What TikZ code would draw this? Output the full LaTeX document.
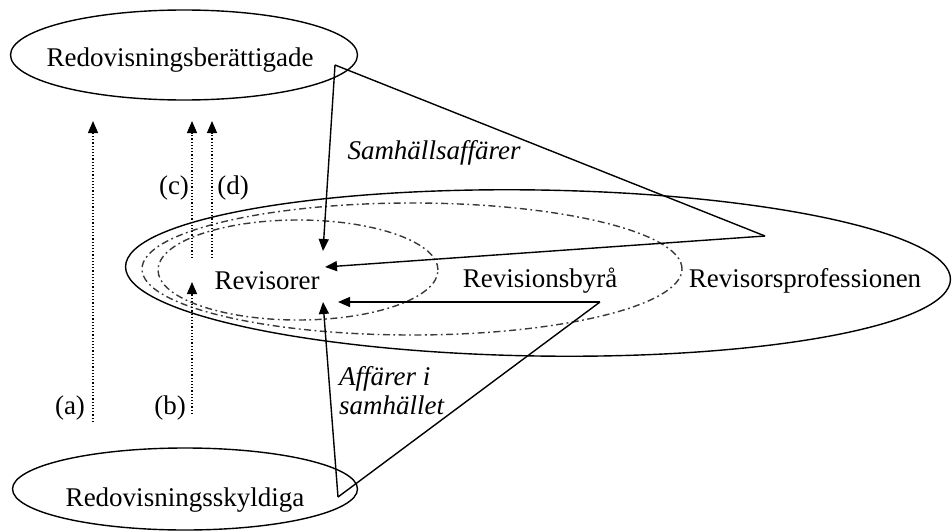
\documentclass[tikz,border=0pt]{standalone}
\usepackage{fontspec}
\setmainfont{Liberation Serif}
\usetikzlibrary{shapes.geometric,arrows.meta}
\begin{document}
\begin{tikzpicture}[x=1pt,y=-1pt,
  every node/.style={font=\fontsize{27}{29}\selectfont, inner sep=0pt},
  ell/.style={draw, ellipse, line width=1.4pt},
  ddot/.style={draw, ellipse, line width=1.4pt, gray!45!black, dash pattern=on 7pt off 3.5pt on 1.8pt off 3.5pt},
  conn/.style={line width=1.4pt},
  arr/.style={line width=1.4pt, -{Triangle[length=12pt,width=10pt]}},
  darr/.style={line width=1.2pt, dotted, -{Triangle[length=12pt,width=10pt]}}]
\useasboundingbox (0,0) rectangle (952,532);
% ellipses
\node[ell, minimum width=347pt, minimum height=90pt] (top) at (184,55) {};
\node at (180,60) (topt) {Redovisningsberättigade};
\node[ell, minimum width=345pt, minimum height=82pt] (bot) at (185,489) {};
\node at (185,500) (bott) {Redovisningsskyldiga};
\node[ell, minimum width=825pt, minimum height=166pt, rotate=-0.9] (prof) at (538,273) {};
\node[ddot, minimum width=540pt, minimum height=132pt] (byra) at (412,269) {};
\node[ddot, minimum width=280pt, minimum height=100pt] (rev) at (298,270) {};
\node (revt) at (267,281) {Revisorer};
\node (byrat) at (540,281) {Revisionsbyrå};
\node (proft) at (805,281) {Revisorsprofessionen};
\node (samh) at (434,153) {\itshape Samhällsaffärer};
\node[align=left, anchor=west] (aff) at (339,391) {\itshape Affärer i\\\itshape samhället};
% connector points
\coordinate (A) at (335,65);
\coordinate (B) at (765,236);
\coordinate (C) at (338,497);
\coordinate (D) at (600,302);
\coordinate (t1) at (323,251);
\coordinate (t2) at (325,267);
\coordinate (t3) at (338,302);
\coordinate (t4) at (323,302);
\draw[conn] (A) -- (B);
\draw[arr] (B) -- (t2);
\draw[arr] (A) -- (t1);
\draw[conn] (C) -- (D);
\draw[arr] (D) -- (t3);
\draw[arr] (C) -- (t4);
% dotted arrows
\coordinate (a0) at (93,422);
\coordinate (a1) at (93,121);
\coordinate (b0) at (192,414);
\coordinate (b1) at (192,282);
\coordinate (c0) at (192,258);
\coordinate (c1) at (192,121);
\coordinate (d0) at (212,258);
\coordinate (d1) at (212,121);
\draw[darr] (a0) -- (a1);
\draw[darr] (b0) -- (b1);
\draw[darr] (c0) -- (c1);
\draw[darr] (d0) -- (d1);
\node (la) at (70,408) {(a)};
\node (lb) at (170,408) {(b)};
\node (lc) at (174,188) {(c)};
\node (ld) at (233,188) {(d)};
\end{tikzpicture}
\end{document}
